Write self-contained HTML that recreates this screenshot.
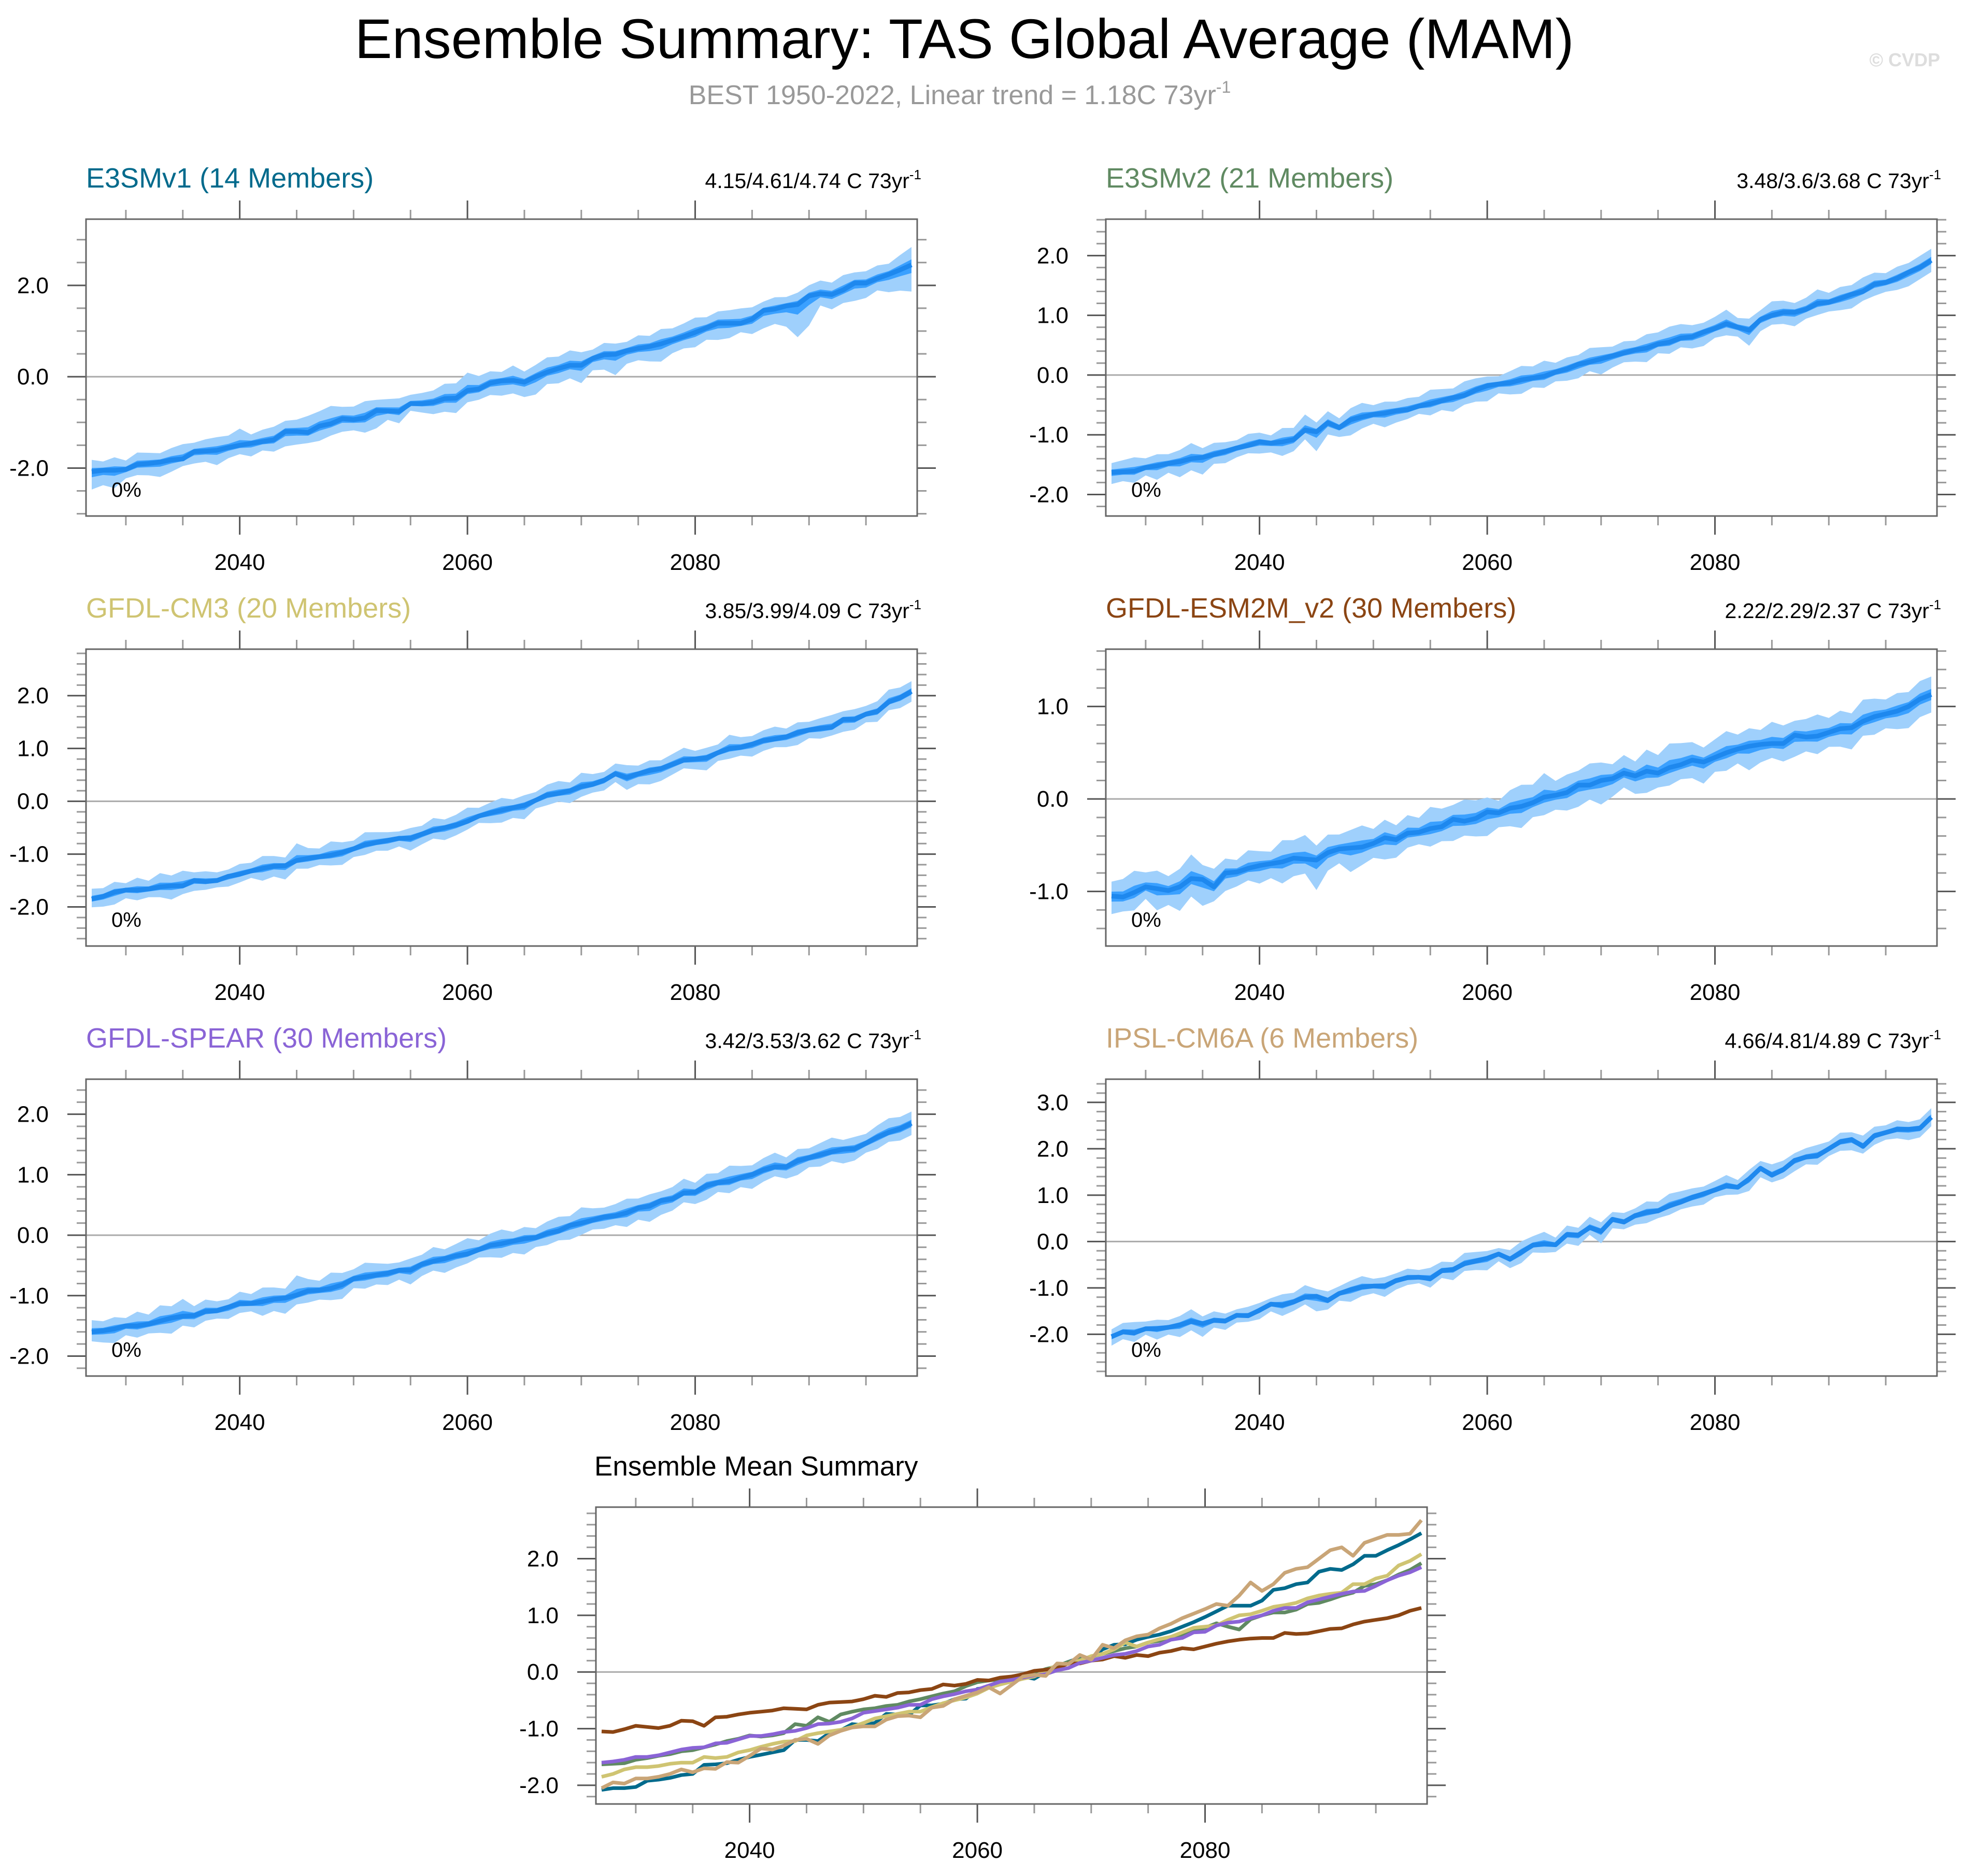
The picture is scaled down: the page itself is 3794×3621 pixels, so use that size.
<!DOCTYPE html>
<html><head><meta charset="utf-8"><style>
html,body{margin:0;padding:0;background:#fff;}
svg{display:block;font-family:"Liberation Sans",Arial,sans-serif;}
</style></head><body>
<svg id="chart" xmlns="http://www.w3.org/2000/svg" width="3794" height="3621" viewBox="0 0 3794 3621">
<rect width="3794" height="3621" fill="#fff"/>
<text x="1861" y="112" font-size="108" text-anchor="middle" fill="#000">Ensemble Summary: TAS Global Average (MAM)</text>
<text x="1852" y="201" font-size="52" text-anchor="middle" fill="#999">BEST 1950-2022, Linear trend = 1.18C 73yr<tspan dy="-22" font-size="32">-1</tspan></text>
<text x="3744" y="128" font-size="36" font-weight="bold" text-anchor="end" fill="#ddd">© CVDP</text>
<g id="panels"></g>
</svg>
<script>
const years = [];
for (let y = 2027; y <= 2099; y++) years.push(y);

const meanE3SMv1 = [-2.08,-2.05,-2.05,-2.03,-1.92,-1.90,-1.87,-1.82,-1.80,-1.64,
-1.63,-1.61,-1.55,-1.50,-1.46,-1.42,-1.38,-1.20,-1.20,-1.22,
-1.08,-1.03,-0.92,-0.94,-0.90,-0.74,-0.75,-0.76,-0.59,-0.59,
-0.56,-0.48,-0.47,-0.30,-0.27,-0.14,-0.09,-0.08,-0.12,0.00,
0.10,0.18,0.25,0.25,0.40,0.48,0.49,0.57,0.62,0.66,
0.72,0.80,0.88,0.97,1.07,1.17,1.17,1.17,1.26,1.45,
1.48,1.55,1.58,1.77,1.82,1.80,1.90,2.05,2.05,2.15,
2.24,2.34,2.45];
const meanE3SMv2 = [-1.63,-1.62,-1.61,-1.55,-1.52,-1.48,-1.45,-1.40,-1.38,-1.33,
-1.28,-1.22,-1.18,-1.12,-1.14,-1.12,-1.08,-0.92,-0.95,-0.80,
-0.88,-0.75,-0.70,-0.66,-0.64,-0.60,-0.58,-0.52,-0.48,-0.43,
-0.38,-0.34,-0.25,-0.18,-0.15,-0.13,-0.08,-0.05,-0.02,0.05,
0.10,0.18,0.22,0.27,0.32,0.37,0.42,0.45,0.52,0.55,
0.62,0.64,0.72,0.78,0.86,0.80,0.75,0.93,1.00,1.05,
1.05,1.10,1.20,1.22,1.28,1.35,1.40,1.52,1.55,1.62,
1.72,1.80,1.92];
const meanCM3 = [-1.85,-1.80,-1.72,-1.68,-1.68,-1.66,-1.62,-1.60,-1.60,-1.50,
-1.52,-1.50,-1.42,-1.38,-1.32,-1.27,-1.23,-1.22,-1.12,-1.08,
-1.05,-1.02,-0.97,-0.90,-0.82,-0.78,-0.74,-0.70,-0.70,-0.62,
-0.55,-0.50,-0.45,-0.38,-0.28,-0.22,-0.17,-0.12,-0.08,0.02,
0.12,0.15,0.20,0.28,0.32,0.40,0.52,0.45,0.52,0.58,
0.62,0.70,0.78,0.80,0.82,0.92,1.00,1.02,1.08,1.15,
1.18,1.22,1.30,1.35,1.38,1.40,1.55,1.55,1.65,1.70,
1.88,1.96,2.08];
const meanESM2M = [-1.05,-1.06,-1.01,-0.95,-0.97,-0.99,-0.95,-0.86,-0.87,-0.95,
-0.80,-0.79,-0.75,-0.72,-0.70,-0.68,-0.64,-0.65,-0.66,-0.58,
-0.54,-0.53,-0.52,-0.48,-0.42,-0.44,-0.37,-0.36,-0.32,-0.30,
-0.22,-0.24,-0.21,-0.14,-0.15,-0.10,-0.08,-0.04,0.02,0.04,
0.07,0.15,0.15,0.20,0.22,0.28,0.25,0.30,0.28,0.34,
0.37,0.42,0.40,0.45,0.50,0.54,0.57,0.59,0.60,0.60,
0.69,0.67,0.68,0.72,0.76,0.77,0.84,0.89,0.92,0.95,
1.00,1.08,1.13];
const meanSPEAR = [-1.60,-1.58,-1.55,-1.50,-1.50,-1.47,-1.42,-1.37,-1.34,-1.33,
-1.26,-1.25,-1.19,-1.13,-1.13,-1.10,-1.06,-1.04,-0.99,-0.92,
-0.91,-0.88,-0.82,-0.72,-0.69,-0.66,-0.63,-0.58,-0.58,-0.48,
-0.43,-0.39,-0.34,-0.31,-0.24,-0.17,-0.14,-0.10,-0.06,-0.04,
0.03,0.07,0.16,0.20,0.25,0.30,0.32,0.37,0.45,0.48,
0.57,0.60,0.70,0.71,0.82,0.87,0.89,0.95,1.00,1.08,
1.13,1.13,1.23,1.28,1.33,1.38,1.42,1.43,1.52,1.62,
1.70,1.76,1.85];
const meanIPSL = [-2.05,-1.95,-1.97,-1.88,-1.88,-1.85,-1.80,-1.72,-1.77,-1.70,
-1.71,-1.59,-1.60,-1.48,-1.35,-1.37,-1.30,-1.20,-1.18,-1.27,
-1.12,-1.04,-0.98,-0.96,-0.96,-0.84,-0.78,-0.77,-0.80,-0.63,
-0.60,-0.48,-0.42,-0.36,-0.27,-0.38,-0.23,-0.08,-0.05,-0.07,
0.15,0.14,0.30,0.22,0.48,0.42,0.56,0.63,0.66,0.77,
0.85,0.95,1.03,1.11,1.20,1.17,1.35,1.58,1.43,1.55,
1.75,1.82,1.85,2.00,2.15,2.20,2.05,2.28,2.35,2.42,
2.42,2.44,2.68];

const spreadLoWide = [0.30,0.25,0.30,0.15,0.18,0.20,0.25,0.20,0.12,0.20,
0.18,0.25,0.18,0.15,0.22,0.15,0.20,0.25,0.22,0.18,
0.25,0.20,0.22,0.18,0.25,0.30,0.15,0.20,0.12,0.15,
0.20,0.22,0.25,0.20,0.18,0.20,0.25,0.22,0.25,0.30,
0.20,0.25,0.22,0.30,0.20,0.25,0.35,0.22,0.20,0.25,
0.30,0.22,0.20,0.25,0.20,0.28,0.25,0.15,0.25,0.30,
0.25,0.35,0.55,0.50,0.20,0.25,0.22,0.30,0.25,0.20,
0.30,0.35,0.45];
const spreadHiWide = [0.20,0.15,0.22,0.15,0.20,0.18,0.15,0.20,0.25,0.15,
0.20,0.22,0.20,0.28,0.15,0.20,0.22,0.18,0.20,0.28,
0.25,0.30,0.20,0.22,0.28,0.18,0.20,0.22,0.15,0.18,
0.20,0.25,0.25,0.30,0.22,0.20,0.15,0.25,0.18,0.20,
0.25,0.20,0.25,0.22,0.15,0.20,0.18,0.15,0.22,0.18,
0.25,0.20,0.22,0.25,0.18,0.20,0.22,0.25,0.20,0.15,
0.20,0.15,0.20,0.18,0.22,0.20,0.25,0.18,0.20,0.22,
0.18,0.25,0.30];
const spreadLoMid = [0.15,0.12,0.15,0.10,0.18,0.12,0.20,0.15,0.22,0.12,
0.15,0.12,0.10,0.15,0.12,0.18,0.15,0.12,0.25,0.15,
0.12,0.20,0.15,0.12,0.18,0.15,0.12,0.10,0.15,0.12,
0.18,0.12,0.15,0.20,0.12,0.15,0.18,0.12,0.15,0.12,
0.15,0.18,0.12,0.20,0.15,0.12,0.15,0.18,0.12,0.15,
0.12,0.15,0.18,0.12,0.15,0.12,0.20,0.15,0.12,0.15,
0.18,0.12,0.15,0.12,0.15,0.18,0.12,0.15,0.12,0.15,
0.18,0.15,0.15];
const spreadHiMid = [0.12,0.15,0.18,0.12,0.15,0.12,0.15,0.20,0.12,0.15,
0.12,0.10,0.15,0.12,0.10,0.18,0.15,0.20,0.12,0.15,
0.12,0.15,0.18,0.12,0.15,0.12,0.15,0.12,0.18,0.15,
0.12,0.18,0.15,0.12,0.10,0.15,0.18,0.15,0.20,0.12,
0.15,0.12,0.18,0.15,0.12,0.15,0.12,0.18,0.15,0.20,
0.18,0.15,0.12,0.15,0.18,0.12,0.15,0.12,0.18,0.15,
0.12,0.15,0.18,0.12,0.15,0.12,0.18,0.15,0.12,0.15,
0.12,0.15,0.15];

const yTickLabelsMajor2 = [-2, 0, 2];
const yTickLabels1 = [-2, -1, 0, 1, 2, 3];
const xTickYears = [2040, 2060, 2080];

const NS = "http://www.w3.org/2000/svg";
const root = document.getElementById('panels');
function mk(tag, attrs, parent) {
  const e = document.createElementNS(NS, tag);
  for (const k in attrs) e.setAttribute(k, attrs[k]);
  (parent || root).appendChild(e);
  return e;
}

const W = 1604, H = 573;
const BAND_WIDEN = 1.3;
const panels = [
  {key:'e3smv1', x:166, y:423, ymin:-3.05, ymax:3.45, major:2, minor:0.5, labels:yTickLabelsMajor2, mean:meanE3SMv1, lo:spreadLoWide, hi:spreadHiWide, title:'E3SMv1 (14 Members)', color:'#006a8c', trend:'4.15/4.61/4.74 C 73yr'},
  {key:'e3smv2', x:2134, y:423, ymin:-2.36, ymax:2.61, major:1, minor:0.2, labels:yTickLabels1, mean:meanE3SMv2, lo:spreadLoMid, hi:spreadHiMid, title:'E3SMv2 (21 Members)', color:'#608a62', trend:'3.48/3.6/3.68 C 73yr'},
  {key:'gfdl-cm3', x:166, y:1253, ymin:-2.74, ymax:2.88, major:1, minor:0.2, labels:yTickLabels1, mean:meanCM3, lo:spreadHiMid, hi:spreadLoMid, title:'GFDL-CM3 (20 Members)', color:'#cfc472', trend:'3.85/3.99/4.09 C 73yr'},
  {key:'gfdl-esm2m', x:2134, y:1253, ymin:-1.59, ymax:1.62, major:1, minor:0.2, labels:yTickLabels1, mean:meanESM2M, lo:spreadLoMid, hi:spreadHiMid, title:'GFDL-ESM2M_v2 (30 Members)', color:'#8b4513', trend:'2.22/2.29/2.37 C 73yr'},
  {key:'gfdl-spear', x:166, y:2083, ymin:-2.33, ymax:2.58, major:1, minor:0.2, labels:yTickLabels1, mean:meanSPEAR, lo:spreadHiMid, hi:spreadLoMid, title:'GFDL-SPEAR (30 Members)', color:'#8a64d6', trend:'3.42/3.53/3.62 C 73yr'},
  {key:'ipsl-cm6a', x:2134, y:2083, ymin:-2.9, ymax:3.5, major:1, minor:0.2, labels:yTickLabels1, mean:meanIPSL, lo:spreadLoMid, hi:spreadHiMid, title:'IPSL-CM6A (6 Members)', color:'#c9a577', trend:'4.66/4.81/4.89 C 73yr'}
];

function axes(p, g, idx) {
  const xs = yr => p.x + (yr - 2026.5) / 73 * W;
  const ys = v => p.y + (p.ymax - v) / (p.ymax - p.ymin) * H;
  p.xs = xs; p.ys = ys;
  const clip = mk('clipPath', {id:'clip' + idx}, g);
  mk('rect', {x:p.x, y:p.y, width:W, height:H}, clip);
  const start = Math.ceil(p.ymin / p.minor - 1e-6);
  const end = Math.floor(p.ymax / p.minor + 1e-6);
  for (let i = start; i <= end; i++) {
    const v = +(i * p.minor).toFixed(4);
    const isMaj = Math.abs(v / p.major - Math.round(v / p.major)) < 1e-6;
    const len = isMaj ? 36 : 18;
    const yy = ys(v);
    const t1 = mk('line', {x1:p.x - len, x2:p.x, y1:yy, y2:yy, stroke: isMaj ? '#555' : '#999', 'stroke-width':3}, g);
    
    
    const t2 = mk('line', {x1:p.x + W, x2:p.x + W + len, y1:yy, y2:yy, stroke: isMaj ? '#555' : '#999', 'stroke-width':3}, g);
    
    
  }
  p.labels.forEach(v => {
    if (v < p.ymin || v > p.ymax) return;
    const t = mk('text', {x:p.x - 72, y:ys(v) + 15, 'font-size':44, 'text-anchor':'end', fill:'#000'}, g);
    
    
    t.textContent = v.toFixed(1);
  });
  for (let yr = 2030; yr <= 2095; yr += 5) {
    const isMaj = xTickYears.indexOf(yr) >= 0;
    const len = isMaj ? 36 : 18;
    const xx = xs(yr);
    const a = mk('line', {x1:xx, x2:xx, y1:p.y - len, y2:p.y, stroke: isMaj ? '#555' : '#999', 'stroke-width':3}, g);
    
    
    const b = mk('line', {x1:xx, x2:xx, y1:p.y + H, y2:p.y + H + len, stroke: isMaj ? '#555' : '#999', 'stroke-width':3}, g);
    
    
  }
  xTickYears.forEach(yr => {
    const t = mk('text', {x:xs(yr), y:p.y + H + 104, 'font-size':44, 'text-anchor':'middle', fill:'#000'}, g);
    
    
    t.textContent = yr;
  });
  const z = mk('line', {x1:p.x, x2:p.x + W, y1:ys(0), y2:ys(0), stroke:'#aaa', 'stroke-width':3}, g);
  
  
}

function bandPath(p, upper, lower) {
  let d = '';
  years.forEach((yr, i) => { d += (i ? 'L' : 'M') + p.xs(yr).toFixed(1) + ',' + p.ys(upper[i]).toFixed(1); });
  for (let i = years.length - 1; i >= 0; i--) d += 'L' + p.xs(years[i]).toFixed(1) + ',' + p.ys(lower[i]).toFixed(1);
  return d + 'Z';
}
function linePath(p, vals) {
  let d = '';
  years.forEach((yr, i) => { d += (i ? 'L' : 'M') + p.xs(yr).toFixed(1) + ',' + p.ys(vals[i]).toFixed(1); });
  return d;
}

panels.forEach((p, idx) => {
  const g = mk('g', {});
  
  
  axes(p, g, idx);
  const outerHi = p.mean.map((m, i) => m + BAND_WIDEN * p.hi[i]);
  const outerLo = p.mean.map((m, i) => m - BAND_WIDEN * p.lo[i]);
  const innerHi = p.mean.map((m, i) => m + 0.4 * p.hi[i]);
  const innerLo = p.mean.map((m, i) => m - 0.4 * p.lo[i]);
  const cg = mk('g', {'clip-path':'url(#clip' + idx + ')'}, g);
  const ob = mk('path', {d:bandPath(p, outerHi, outerLo), fill:'#9fd0fc'}, cg);
  
  
  const ib = mk('path', {d:bandPath(p, innerHi, innerLo), fill:'#3aa0ff'}, cg);
  
  
  const ml = mk('path', {d:linePath(p, p.mean), fill:'none', stroke:'#1e88ee', 'stroke-width':9, 'stroke-linejoin':'round'}, cg);
  
  
  const fr = mk('rect', {x:p.x, y:p.y, width:W, height:H, fill:'none', stroke:'#666', 'stroke-width':3}, g);
  
  
  const tt = mk('text', {x:p.x, y:p.y - 61, 'font-size':54, fill:p.color}, g);
  
  
  tt.textContent = p.title;
  const tr = mk('text', {x:p.x + W + 8, y:p.y - 60, 'font-size':41, 'text-anchor':'end', fill:'#000'}, g);
  
  
  tr.textContent = p.trend;
  const sup = mk('tspan', {dy:-17, 'font-size':26}, tr);
  sup.textContent = '-1';
  const pc = mk('text', {x:p.x + 49, y:p.y + 536, 'font-size':40, fill:'#000'}, g);
  
  
  pc.textContent = '0%';
});

const sp = {key:'mean-summary', x:1150, y:2909, ymin:-2.33, ymax:2.91, major:1, minor:0.2, labels:[-2,-1,0,1,2]};
const sg = mk('g', {});


axes(sp, sg, 9);
const scg = mk('g', {'clip-path':'url(#clip9)'}, sg);
panels.forEach(p => {
  const l = mk('path', {d:linePath(sp, p.mean), fill:'none', stroke:p.color, 'stroke-width':7, 'stroke-linejoin':'round'}, scg);
  
  
});
const sfr = mk('rect', {x:sp.x, y:sp.y, width:W, height:H, fill:'none', stroke:'#666', 'stroke-width':3}, sg);


const st = mk('text', {x:1147, y:2848, 'font-size':53, fill:'#000'}, sg);


st.textContent = 'Ensemble Mean Summary';
</script>
</body></html>
